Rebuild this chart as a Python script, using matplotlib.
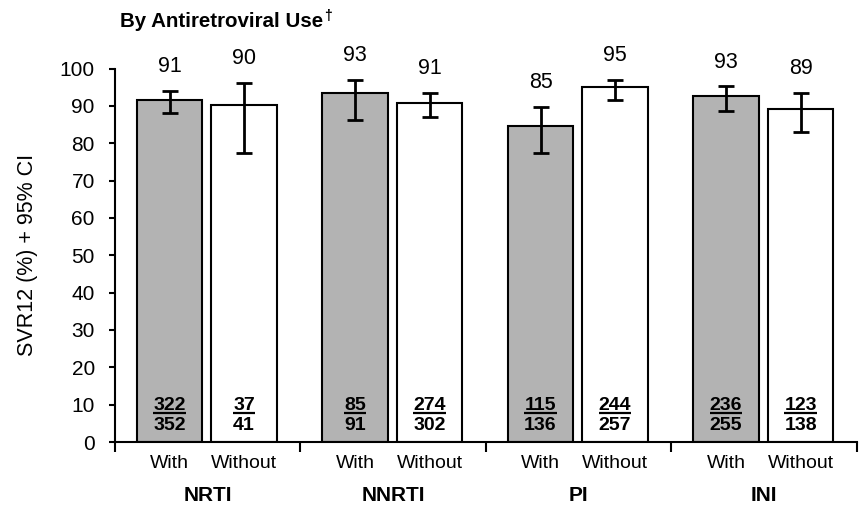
import numpy as np
import matplotlib
matplotlib.use("Agg")
import matplotlib.pyplot as plt
from matplotlib.transforms import blended_transform_factory

plt.rcParams['font.family'] = ['Liberation Sans', 'DejaVu Sans']

# data
groups = ['NRTI', 'NNRTI', 'PI', 'INI']
with_n = [322, 85, 115, 236]
with_d = [352, 91, 136, 255]
without_n = [37, 274, 244, 123]
without_d = [41, 302, 257, 138]
with_pct = [91, 93, 85, 93]
without_pct = [90, 91, 95, 89]
with_lo = [88.2, 86.3, 77.5, 88.6]
with_hi = [94.0, 96.9, 89.7, 95.2]
without_lo = [77.4, 86.9, 91.5, 83.0]
without_hi = [96.2, 93.5, 97.0, 93.4]
yticks = [0, 10, 20, 30, 40, 50, 60, 70, 80, 90, 100]

with_val = 100.0 * np.array(with_n) / np.array(with_d)
without_val = 100.0 * np.array(without_n) / np.array(without_d)

fig = plt.figure(figsize=(8.62, 5.08), dpi=100)
ax = fig.add_axes([115/862, 66/508, 742/862, 373.5/508])

x = np.arange(len(groups))
xw = x + 0.294
xo = x + 0.696
bw = 0.353

lw = 1.5
ax.bar(xw, with_val, bw, color='#b3b3b3', edgecolor='black', linewidth=lw, zorder=2)
ax.bar(xo, without_val, bw, color='white', edgecolor='black', linewidth=lw, zorder=2)

ek = dict(fmt='none', ecolor='black', elinewidth=2, capsize=6, capthick=2, zorder=3)
ax.errorbar(xw, with_val, yerr=[with_val - with_lo, np.array(with_hi) - with_val], **ek)
ax.errorbar(xo, without_val, yerr=[without_val - without_lo, np.array(without_hi) - without_val], **ek)

# percentage labels above error bars
for xs, hi, pct in [(xw, with_hi, with_pct), (xo, without_hi, without_pct)]:
    for xi, h, p in zip(xs, hi, pct):
        ax.annotate(str(p), (xi, h), xytext=(0, 13.5), textcoords='offset points',
                    ha='center', va='baseline', fontsize=15.5, clip_on=False)

# n/N fractions inside bars
fracs = []
for xs, nn, dd in [(xw, with_n, with_d), (xo, without_n, without_d)]:
    for xi, n, d in zip(xs, nn, dd):
        tn = ax.text(xi, 8.6, str(n), ha='center', va='baseline', fontsize=14,
                     fontweight='bold', zorder=4)
        td = ax.text(xi, 3.2, str(d), ha='center', va='baseline', fontsize=14,
                     fontweight='bold', zorder=4)
        fracs.append((xi, tn, td))

ax.set_xlim(0, 4)
ax.set_ylim(0, 100)
ax.set_yticks(yticks)
ax.tick_params(axis='y', labelsize=15, width=1.5, length=4.5, pad=10)
ax.set_xticks(x.tolist() + [4])
ax.set_xticklabels([])
ax.tick_params(axis='x', which='major', width=1.5, length=7, direction='out')
ax.set_xticks(np.concatenate([xw, xo]), minor=True)
ax.set_xticklabels(['With'] * 4 + ['Without'] * 4, minor=True)
ax.tick_params(axis='x', which='minor', length=0, labelsize=14, pad=9)

for s in ['top', 'right']:
    ax.spines[s].set_visible(False)
for s in ['left', 'bottom']:
    ax.spines[s].set_linewidth(1.5)

trans = blended_transform_factory(ax.transData, ax.transAxes)
for xi, g in zip(x, groups):
    ax.text(xi + 0.5, -0.158, g, transform=trans, ha='center', va='baseline',
            fontsize=15, fontweight='bold')

ax.set_ylabel('SVR12 (%) + 95% CI', fontsize=15.5)
ax.yaxis.set_label_coords(-0.104, 0.5)

title = fig.text(120/862, 1 - 26.7/508, 'By Antiretroviral Use', ha='left',
                 va='baseline', fontsize=14.8, fontweight='bold')

# fraction bars and dagger need text extents
fig.canvas.draw()
r = fig.canvas.get_renderer()
inv = ax.transData.inverted()
for xi, tn, td in fracs:
    wpx = max(tn.get_window_extent(r).width, td.get_window_extent(r).width)
    cx = ax.transData.transform((xi, 0))[0]
    x0 = inv.transform((cx - wpx / 2, 0))[0]
    x1 = inv.transform((cx + wpx / 2, 0))[0]
    ax.plot([x0, x1], [7.85, 7.85], color='black', linewidth=1.6, zorder=4,
            solid_capstyle='butt')

bb = title.get_window_extent(r)
fig.text(bb.x1 / fig.bbox.width + 0.001, 1 - 20/508, '\u2020', ha='left',
         va='baseline', fontsize=10, fontweight='bold')

fig.savefig('out.png', dpi=100)
